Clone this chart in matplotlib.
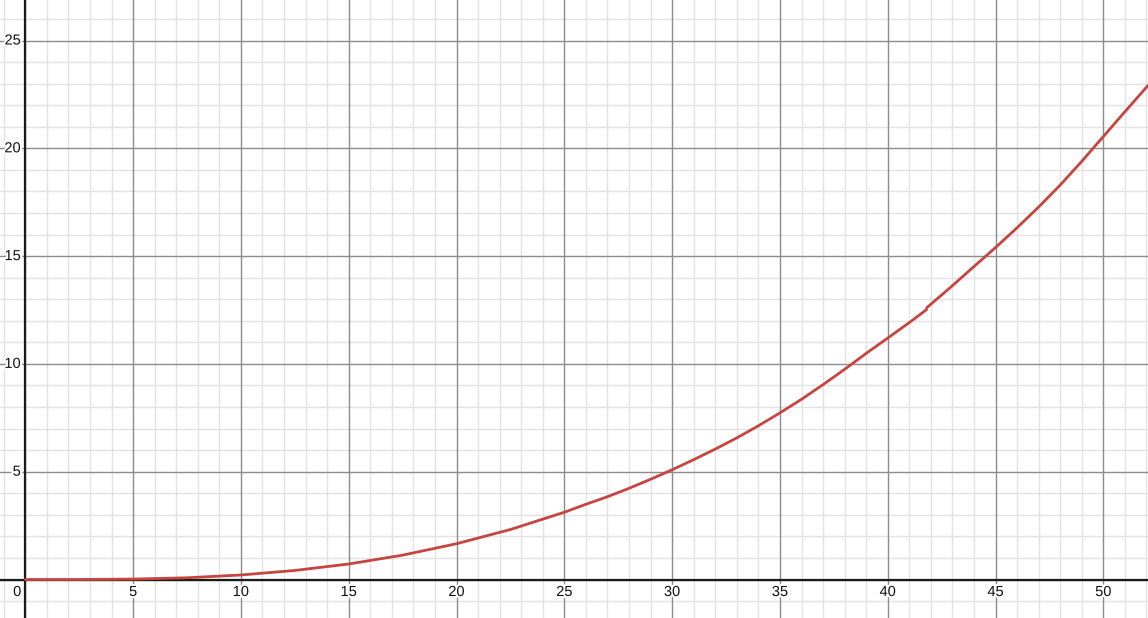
import numpy as np
import matplotlib.pyplot as plt
import matplotlib.patheffects as pe

# valores (dos tramos, hay un pequeño salto cerca de x=41.8)
x_tramo1 = [0, 2.5, 5, 7.5, 10, 12.5, 15, 17.5, 20, 22.5, 25, 26, 27, 28, 29,
            30, 31, 32, 33, 34, 35, 36, 37, 38, 39, 40, 41, 41.8]
y_tramo1 = [0, 0.0, 0.02, 0.08, 0.21, 0.42, 0.72, 1.13, 1.66, 2.32, 3.12, 3.49, 3.84, 4.23, 4.65,
            5.09, 5.56, 6.05, 6.57, 7.13, 7.73, 8.36, 9.04, 9.75, 10.49, 11.2, 11.92, 12.52]
x_tramo2 = [41.8, 42.5, 43, 44, 45, 46, 47, 48, 49, 50, 51, 52.1]
y_tramo2 = [12.6, 13.2, 13.63, 14.52, 15.4, 16.32, 17.28, 18.3, 19.4, 20.55, 21.7, 22.95]

x_labels = [0, 5, 10, 15, 20, 25, 30, 35, 40, 45, 50]
y_labels = [5, 10, 15, 20, 25]

rojo = '#c74440'
xlim = (-1.173, 52.07)
ylim = (-1.785, 26.88)

fig = plt.figure(figsize=(11.48, 6.18), dpi=100)
ax = fig.add_axes([0, 0, 1, 1])
ax.set_xlim(*xlim)
ax.set_ylim(*ylim)

# grilla estilo desmos
for v in np.arange(-1, 53):
    mayor = v % 5 == 0
    ax.axvline(v, color='#8c8c8c' if mayor else '#e3e3e3', lw=1.0, zorder=1 if mayor else 0)
for v in np.arange(-1, 27):
    mayor = v % 5 == 0
    ax.axhline(v, color='#8c8c8c' if mayor else '#e3e3e3', lw=1.0, zorder=1 if mayor else 0)
ax.axhline(0, color='#1a1a1a', lw=1.6, zorder=2)
ax.axvline(0, color='#1a1a1a', lw=1.6, zorder=2)

ax.plot(x_tramo1, y_tramo1, color=rojo, lw=2.0, solid_capstyle='round', zorder=3)
ax.plot(x_tramo2, y_tramo2, color=rojo, lw=2.0, solid_capstyle='round', zorder=3)

halo = [pe.withStroke(linewidth=3, foreground='white')]
fuente = dict(fontsize=10.5, family=['Liberation Sans', 'DejaVu Sans'], color='#111111', zorder=4)
for xv in x_labels:
    dx = -8 if xv == 0 else 0
    ax.annotate(str(xv), (xv, 0), xytext=(dx, -12.5), textcoords='offset pixels',
                ha='center', va='center', path_effects=halo, **fuente)
for yv in y_labels:
    ax.annotate(str(yv), (0, yv), xytext=(-4.5, 0), textcoords='offset pixels',
                ha='right', va='center', path_effects=halo, **fuente)

ax.set_xticks([])
ax.set_yticks([])
for s in ax.spines.values():
    s.set_visible(False)

fig.savefig('out.png', dpi=100)
